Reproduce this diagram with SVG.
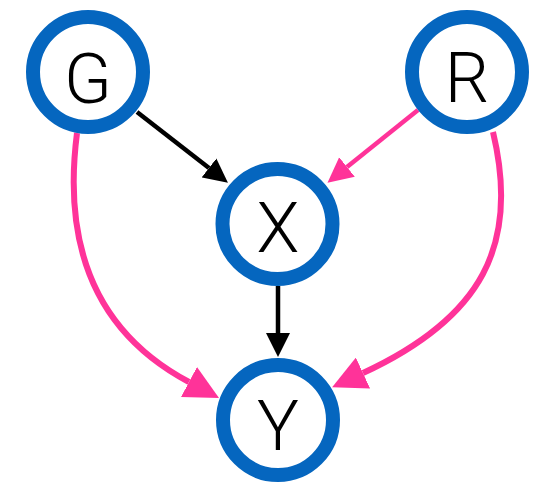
<svg xmlns="http://www.w3.org/2000/svg" width="545" height="482" viewBox="0 0 545 482">
<style>
.node circle{fill:#fff;stroke:#0566BF;stroke-width:14}
.node text{font-family:Roboto,"Liberation Sans",sans-serif;font-weight:300;font-size:70px;text-anchor:middle;fill:#000}
.blk{fill:none;stroke:#000;stroke-width:4.5}
.pnk{fill:none;stroke:#FF3399;stroke-width:4.5}
.pnkc{fill:none;stroke:#FF3399;stroke-width:6}
</style>
<defs>
<marker id="ab" viewBox="0 0 10 10" refX="0" refY="5" markerUnits="userSpaceOnUse" markerWidth="24" markerHeight="25" orient="auto"><path d="M0,0L10,5L0,10z" fill="#000"/></marker>
<marker id="ap" viewBox="0 0 10 10" refX="0" refY="5" markerUnits="userSpaceOnUse" markerWidth="25" markerHeight="26" orient="auto"><path d="M0,0L10,5L0,10z" fill="#FF3399"/></marker>
<marker id="apl" viewBox="0 0 10 10" refX="0" refY="5" markerUnits="userSpaceOnUse" markerWidth="34" markerHeight="34" orient="auto"><path d="M0,0L10,5L0,10z" fill="#FF3399"/></marker>
</defs>
<g id="connectors">
<path class="blk" d="M137,112L209,168" marker-end="url(#ab)"/>
<path class="pnk" d="M418,110L347,167" marker-end="url(#ap)"/>
<path class="blk" d="M278,286L278,333" marker-end="url(#ab)"/>
<path class="pnkc" d="M77,133C60,265 110,340 189,382" marker-end="url(#apl)"/>
<path class="pnkc" d="M493,132C520,245 482,318 363,373" marker-end="url(#apl)"/>
</g>
<g id="node-G" class="node"><circle cx="88" cy="72" r="55"/><text x="88" y="103">G</text></g>
<g id="node-R" class="node"><circle cx="467" cy="72" r="55"/><text x="467" y="102">R</text></g>
<g id="node-X" class="node"><circle cx="277.5" cy="224" r="55"/><text x="278" y="252">X</text></g>
<g id="node-Y" class="node"><circle cx="278" cy="420" r="55"/><text x="278" y="450">Y</text></g>
</svg>
